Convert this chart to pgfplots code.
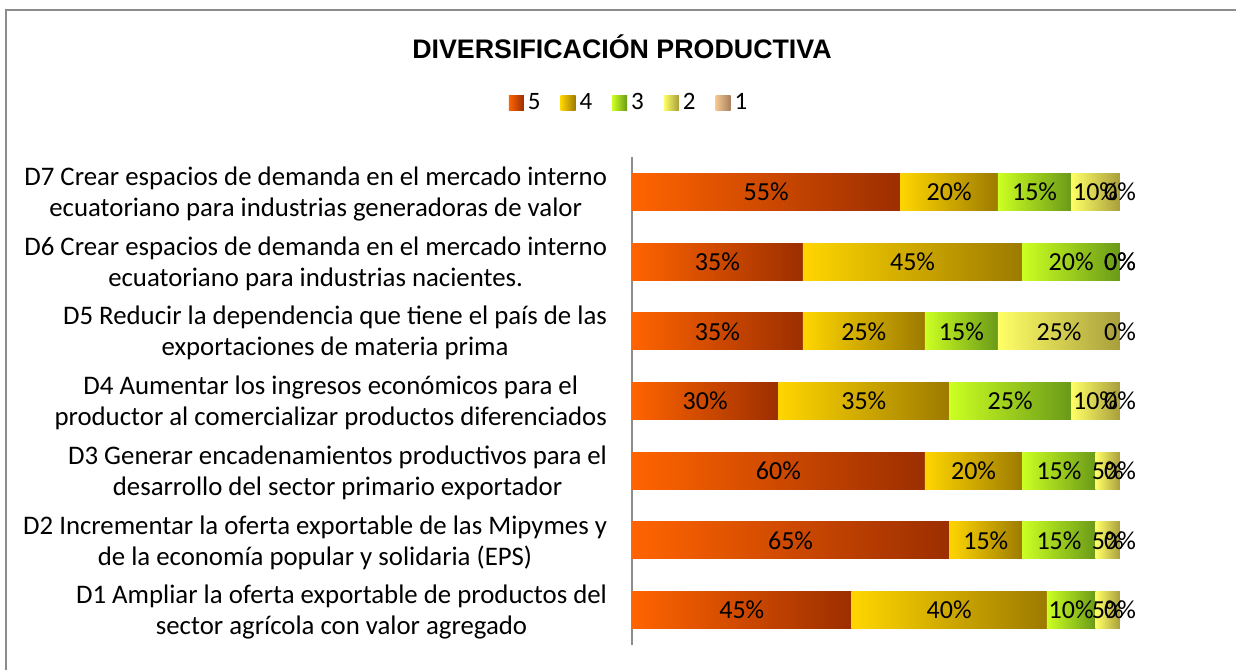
\documentclass[border=0pt]{standalone}
\usepackage{fontspec}
\setmainfont{Carlito}
\newfontfamily\titlefont{Liberation Sans}
\usepackage{pgfplots}
\pgfplotsset{compat=1.18}
\definecolor{c5a}{HTML}{FF6400}\definecolor{c5b}{HTML}{9C2E00}
\definecolor{c4a}{HTML}{FFD600}\definecolor{c4b}{HTML}{9C7A00}
\definecolor{c3a}{HTML}{CCFF22}\definecolor{c3b}{HTML}{6A9A18}
\definecolor{c2a}{HTML}{FFFF66}\definecolor{c2b}{HTML}{A89E3C}
\definecolor{c1a}{HTML}{F6C890}\definecolor{c1b}{HTML}{A8805C}
\definecolor{framegray}{HTML}{8C8C8C}
\tikzset{
  s5/.style={left color=c5a, right color=c5b},
  s4/.style={left color=c4a, right color=c4b},
  s3/.style={left color=c3a, right color=c3b},
  s2/.style={left color=c2a, right color=c2b},
  s1/.style={left color=c1a, right color=c1b},
}
\pgfplotsset{
  seg/.style={draw=none, fill=none,
    every node near coord/.append style={#1},
    legend image code/.code={\path[#1] (0pt,-3.75pt) rectangle (7.5pt,3.75pt);}},
}

\begin{document}
\begin{tikzpicture}
\begin{axis}[
  at={(0,0)}, anchor=south west,
  xbar stacked, reverse stacked plots=false,
  width=244pt, height=244pt, scale only axis,
  xmin=0, xmax=100, ymin=-0.5, ymax=6.5,
  bar width=18.5pt,
  axis x line=none, axis y line*=left,
  y axis line style={draw=framegray, line width=1pt},
  ytick={0,...,6}, major tick length=0pt,
  yticklabels={
    {D1 Ampliar la oferta exportable de productos del\\sector agrícola con valor agregado},
    {D2 Incrementar la oferta exportable de las Mipymes y\\de la economía popular y solidaria (EPS)},
    {D3 Generar encadenamientos productivos para el\\desarrollo del sector primario exportador},
    {D4 Aumentar los ingresos económicos para el\\productor al comercializar productos diferenciados},
    {D5 Reducir la dependencia que tiene el país de las\\exportaciones de materia prima},
    {D6 Crear espacios de demanda en el mercado interno\\ecuatoriano para industrias nacientes.},
    {D7 Crear espacios de demanda en el mercado interno\\ecuatoriano para industrias generadoras de valor}},
  yticklabel style={align=center, font=\fontsize{13.4}{15.5}\selectfont, xshift=-9pt, yshift=-1pt},
  /pgf/number format/assume math mode=true,
  stacked ignores zero=false,
  visualization depends on=rawx \as \rawx,
  nodes near coords={},
  every node near coord/.append style={anchor=center, inner sep=0pt, outer sep=0pt,
    minimum height=18.5pt, minimum width={\rawx*2.44pt}, draw=none,
    label={[font=\fontsize{13}{15}\selectfont, text=black, inner sep=0pt]center:{\pgfmathprintnumber{\rawx}\%}}},
  legend style={at={(-0.004,1.1107)}, anchor=center, draw=none, fill=none,
    legend columns=5, font=\fontsize{12.5}{15}\selectfont,
    /tikz/every even column/.append style={column sep=8pt}},
]
\addplot[seg=s5] coordinates {(45,0) (65,1) (60,2) (30,3) (35,4) (35,5) (55,6)};
\addlegendentry{5}
\addplot[seg=s4] coordinates {(40,0) (15,1) (20,2) (35,3) (25,4) (45,5) (20,6)};
\addlegendentry{4}
\addplot[seg=s3] coordinates {(10,0) (15,1) (15,2) (25,3) (15,4) (20,5) (15,6)};
\addlegendentry{3}
\addplot[seg=s2] coordinates {(5,0) (5,1) (5,2) (10,3) (25,4) (0,5) (10,6)};
\addlegendentry{2}
\addplot[seg=s1] coordinates {(0,0) (0,1) (0,2) (0,3) (0,4) (0,5) (0,6)};
\addlegendentry{1}
\end{axis}
\node[font=\titlefont\bfseries\fontsize{13.4}{16}\selectfont] at (-5pt,299pt) {DIVERSIFICACIÓN PRODUCTIVA};
\draw[framegray, line width=1pt] (-313pt,-12.5pt) -- (-313pt,317.5pt) -- (302pt,317.5pt);
\pgfresetboundingbox
\useasboundingbox (-316pt,-12.5pt) rectangle (302pt,322.5pt);
\end{tikzpicture}
\end{document}
